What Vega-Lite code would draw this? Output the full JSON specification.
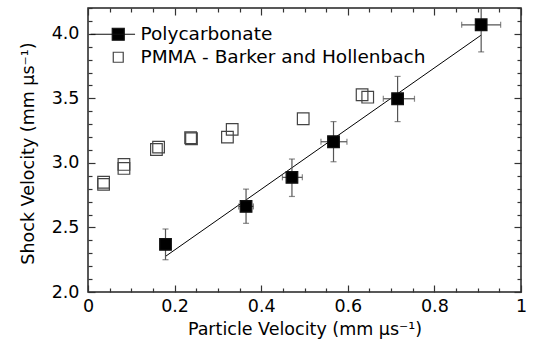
{
  "$schema": "https://vega.github.io/schema/vega-lite/v6.json",
  "width": 433,
  "height": 284,
  "autosize": {"type": "none"},
  "padding": {"left": 88, "top": 8, "right": 14, "bottom": 55},
  "config": {
    "font": "DejaVu Sans",
    "view": {"stroke": "#222", "strokeWidth": 1.5},
    "axis": {
      "domain": false,
      "grid": false,
      "tickColor": "#333",
      "tickWidth": 1.2,
      "labelFont": "DejaVu Sans",
      "labelFontSize": 17.5,
      "labelColor": "#000",
      "labelFlush": false,
      "labelOverlap": false,
      "labelBound": false,
      "titleFont": "DejaVu Sans",
      "titleFontSize": 17.5,
      "titleFontWeight": "normal",
      "titleColor": "#000"
    },
    "legend": {
      "orient": "none",
      "legendX": 21,
      "legendY": 17,
      "padding": 0,
      "symbolSize": 144,
      "symbolStrokeWidth": 1.2,
      "symbolOpacity": 1,
      "labelFont": "DejaVu Sans",
      "labelFontSize": 18.5,
      "labelColor": "#000",
      "labelOffset": 13,
      "labelLimit": 400,
      "rowPadding": 4
    }
  },
  "datasets": {
    "fit": [
      {"x": 0.179, "y": 2.276},
      {"x": 0.908, "y": 3.99}
    ],
    "poly": [
      {"x": 0.179, "y": 2.369, "ylo": 2.25, "yhi": 2.488},
      {"x": 0.365, "y": 2.663, "ylo": 2.532, "yhi": 2.797},
      {"x": 0.471, "y": 2.888, "ylo": 2.74, "yhi": 3.03},
      {"x": 0.567, "y": 3.164, "ylo": 3.009, "yhi": 3.32},
      {"x": 0.715, "y": 3.497, "ylo": 3.32, "yhi": 3.67},
      {"x": 0.908, "y": 4.07, "ylo": 3.86, "yhi": 4.2}
    ],
    "polyx": [
      {"y": 2.663, "xlo": 0.348, "xhi": 0.382},
      {"y": 2.888, "xlo": 0.449, "xhi": 0.495},
      {"y": 3.164, "xlo": 0.538, "xhi": 0.598},
      {"y": 3.497, "xlo": 0.682, "xhi": 0.754},
      {"y": 4.07, "xlo": 0.863, "xhi": 0.953}
    ],
    "pts": [
      {"series": "PMMA - Barker and Hollenbach", "x": 0.036, "y": 2.85},
      {"series": "PMMA - Barker and Hollenbach", "x": 0.036, "y": 2.834},
      {"series": "PMMA - Barker and Hollenbach", "x": 0.083, "y": 2.988},
      {"series": "PMMA - Barker and Hollenbach", "x": 0.083, "y": 2.957},
      {"series": "PMMA - Barker and Hollenbach", "x": 0.163, "y": 3.122},
      {"series": "PMMA - Barker and Hollenbach", "x": 0.158, "y": 3.104},
      {"series": "PMMA - Barker and Hollenbach", "x": 0.237, "y": 3.195},
      {"series": "PMMA - Barker and Hollenbach", "x": 0.239, "y": 3.187},
      {"series": "PMMA - Barker and Hollenbach", "x": 0.333, "y": 3.26},
      {"series": "PMMA - Barker and Hollenbach", "x": 0.322, "y": 3.2},
      {"series": "PMMA - Barker and Hollenbach", "x": 0.497, "y": 3.342},
      {"series": "PMMA - Barker and Hollenbach", "x": 0.633, "y": 3.528},
      {"series": "PMMA - Barker and Hollenbach", "x": 0.646, "y": 3.509},
      {"series": "Polycarbonate", "x": 0.179, "y": 2.369},
      {"series": "Polycarbonate", "x": 0.365, "y": 2.663},
      {"series": "Polycarbonate", "x": 0.471, "y": 2.888},
      {"series": "Polycarbonate", "x": 0.567, "y": 3.164},
      {"series": "Polycarbonate", "x": 0.715, "y": 3.497},
      {"series": "Polycarbonate", "x": 0.908, "y": 4.07}
    ]
  },
  "layer": [
    {
      "data": {"name": "fit"},
      "mark": {"type": "line", "color": "#000", "strokeWidth": 1},
      "encoding": {
        "x": {
          "field": "x", "type": "quantitative",
          "scale": {"domain": [0, 1], "nice": false, "zero": false},
          "axis": {
            "orient": "bottom",
            "values": [0,0.05,0.1,0.15,0.2,0.25,0.3,0.35,0.4,0.45,0.5,0.55,0.6,0.65,0.7,0.75,0.8,0.85,0.9,0.95,1],
            "labelExpr": "datum.value == 0 ? '0' : datum.value == 1 ? '1' : (abs(datum.value*5 - round(datum.value*5)) < 0.001 ? format(datum.value, '.1f') : '')",
            "tickSize": {"condition": {"test": "abs(datum.value*5 - round(datum.value*5)) < 0.001", "value": -7}, "value": -4},
            "labelPadding": 12,
            "title": "Particle Velocity (mm μs⁻¹)",
            "titleY": 42,
            "titleBaseline": "alphabetic"
          }
        },
        "y": {
          "field": "y", "type": "quantitative",
          "scale": {"domain": [2, 4.2], "nice": false, "zero": false},
          "axis": {
            "orient": "left",
            "values": [2,2.1,2.2,2.3,2.4,2.5,2.6,2.7,2.8,2.9,3,3.1,3.2,3.3,3.4,3.5,3.6,3.7,3.8,3.9,4,4.1,4.2],
            "labelExpr": "abs(datum.value*2 - round(datum.value*2)) < 0.001 ? format(datum.value, '.1f') : ''",
            "tickSize": {"condition": {"test": "abs(datum.value*2 - round(datum.value*2)) < 0.001", "value": -7}, "value": -4},
            "labelPadding": 16,
            "title": "Shock Velocity (mm μs⁻¹)",
            "titleX": -54.5,
            "titleY": 145,
            "titleAngle": 270,
            "titleAlign": "center",
            "titleBaseline": "alphabetic"
          }
        }
      }
    },
    {
      "data": {"name": "poly"},
      "mark": {"type": "errorbar", "color": "#555", "thickness": 1.2, "size": 6, "ticks": true},
      "encoding": {
        "x": {"field": "x", "type": "quantitative", "axis": null},
        "y": {"field": "ylo", "type": "quantitative", "axis": null},
        "y2": {"field": "yhi"}
      }
    },
    {
      "data": {"name": "polyx"},
      "mark": {"type": "errorbar", "color": "#555", "thickness": 1.2, "size": 6, "ticks": true},
      "encoding": {
        "y": {"field": "y", "type": "quantitative", "axis": null},
        "x": {"field": "xlo", "type": "quantitative", "axis": null},
        "x2": {"field": "xhi"}
      }
    },
    {
      "data": {"name": "pts"},
      "mark": {"type": "point", "filled": true, "opacity": 0, "strokeWidth": 1.2},
      "encoding": {
        "x": {"field": "x", "type": "quantitative", "axis": null},
        "y": {"field": "y", "type": "quantitative", "axis": null},
        "shape": {
          "field": "series", "type": "nominal",
          "scale": {"domain": ["Polycarbonate", "PMMA - Barker and Hollenbach"], "range": ["M-4.6,0H2.8M-1,-1H1V1H-1Z", "M-0.83,-0.83H0.83V0.83H-0.83Z"]},
          "legend": {"title": null}
        },
        "fill": {
          "field": "series", "type": "nominal",
          "scale": {"domain": ["Polycarbonate", "PMMA - Barker and Hollenbach"], "range": ["#000000", "transparent"]},
          "legend": {"title": null}
        },
        "stroke": {
          "field": "series", "type": "nominal",
          "scale": {"domain": ["Polycarbonate", "PMMA - Barker and Hollenbach"], "range": ["#111111", "#444444"]},
          "legend": {"title": null}
        }
      }
    },
    {
      "data": {"name": "pts"},
      "mark": {"type": "point", "shape": "square", "size": 135, "strokeWidth": 1.2, "filled": true, "opacity": 1},
      "encoding": {
        "x": {
          "field": "x", "type": "quantitative",
          "axis": {
            "orient": "top",
            "values": [0,0.05,0.1,0.15,0.2,0.25,0.3,0.35,0.4,0.45,0.5,0.55,0.6,0.65,0.7,0.75,0.8,0.85,0.9,0.95,1],
            "labels": false,
            "tickSize": {"condition": {"test": "abs(datum.value*5 - round(datum.value*5)) < 0.001", "value": -7}, "value": -4},
            "title": null
          }
        },
        "y": {
          "field": "y", "type": "quantitative",
          "axis": {
            "orient": "right",
            "values": [2,2.1,2.2,2.3,2.4,2.5,2.6,2.7,2.8,2.9,3,3.1,3.2,3.3,3.4,3.5,3.6,3.7,3.8,3.9,4,4.1,4.2],
            "labels": false,
            "tickSize": {"condition": {"test": "abs(datum.value*2 - round(datum.value*2)) < 0.001", "value": -7}, "value": -4},
            "title": null
          }
        },
        "fill": {
          "field": "series", "type": "nominal",
          "legend": {"title": null}
        },
        "stroke": {
          "field": "series", "type": "nominal",
          "legend": {"title": null}
        }
      }
    }
  ],
  "resolve": {"axis": {"x": "independent", "y": "independent"}}
}
